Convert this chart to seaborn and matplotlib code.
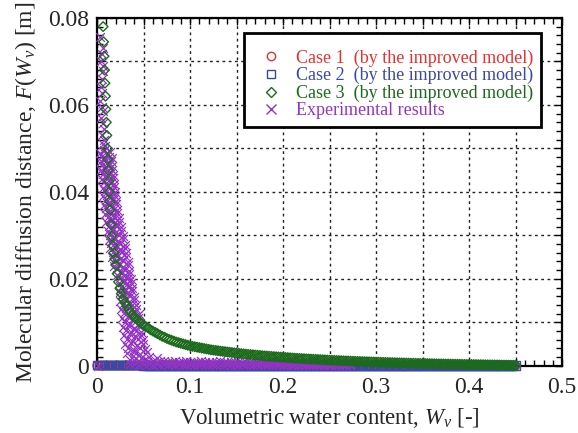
import matplotlib
matplotlib.use("Agg")
import matplotlib.pyplot as plt
from matplotlib import font_manager as fm
from matplotlib.ticker import MultipleLocator, FuncFormatter
from matplotlib.lines import Line2D
import seaborn as sns
import pandas as pd

# ---------------- data ----------------
legend_labels = ["Case 1  (by the improved model)",
                 "Case 2  (by the improved model)",
                 "Case 3  (by the improved model)",
                 "Experimental results"]

w_grid = [0.0000, 0.0025, 0.0050, 0.0075, 0.0100, 0.0125, 0.0150, 0.0175, 0.0200, 0.0225,
          0.0250, 0.0275, 0.0300, 0.0325, 0.0350, 0.0375, 0.0400, 0.0425, 0.0450, 0.0475,
          0.0500, 0.0525, 0.0550, 0.0575, 0.0600, 0.0625, 0.0650, 0.0675, 0.0700, 0.0725,
          0.0750, 0.0775, 0.0800, 0.0825, 0.0850, 0.0875, 0.0900, 0.0925, 0.0950, 0.0975,
          0.1000, 0.1025, 0.1050, 0.1075, 0.1100, 0.1125, 0.1150, 0.1175, 0.1200, 0.1225,
          0.1250, 0.1275, 0.1300, 0.1325, 0.1350, 0.1375, 0.1400, 0.1425, 0.1450, 0.1475,
          0.1500, 0.1525, 0.1550, 0.1575, 0.1600, 0.1625, 0.1650, 0.1675, 0.1700, 0.1725,
          0.1750, 0.1775, 0.1800, 0.1825, 0.1850, 0.1875, 0.1900, 0.1925, 0.1950, 0.1975,
          0.2000, 0.2025, 0.2050, 0.2075, 0.2100, 0.2125, 0.2150, 0.2175, 0.2200, 0.2225,
          0.2250, 0.2275, 0.2300, 0.2325, 0.2350, 0.2375, 0.2400, 0.2425, 0.2450, 0.2475,
          0.2500, 0.2525, 0.2550, 0.2575, 0.2600, 0.2625, 0.2650, 0.2675, 0.2700, 0.2725,
          0.2750, 0.2775, 0.2800, 0.2825, 0.2850, 0.2875, 0.2900, 0.2925, 0.2950, 0.2975,
          0.3000, 0.3025, 0.3050, 0.3075, 0.3100, 0.3125, 0.3150, 0.3175, 0.3200, 0.3225,
          0.3250, 0.3275, 0.3300, 0.3325, 0.3350, 0.3375, 0.3400, 0.3425, 0.3450, 0.3475,
          0.3500, 0.3525, 0.3550, 0.3575, 0.3600, 0.3625, 0.3650, 0.3675, 0.3700, 0.3725,
          0.3750, 0.3775, 0.3800, 0.3825, 0.3850, 0.3875, 0.3900, 0.3925, 0.3950, 0.3975,
          0.4000, 0.4025, 0.4050, 0.4075, 0.4100, 0.4125, 0.4150, 0.4175, 0.4200, 0.4225,
          0.4250, 0.4275, 0.4300, 0.4325, 0.4350, 0.4375, 0.4400, 0.4425, 0.4450, 0.4475,
          0.4500]

case1_f = [0.00006, 0.00006, 0.00006, 0.00006, 0.00006, 0.00006, 0.00006, 0.00006, 0.00006, 0.00006,
           0.00006, 0.00006, 0.00006, 0.00006, 0.00006, 0.00006, 0.00006, 0.00006, 0.00006, 0.00006,
           0.00005, 0.00005, 0.00005, 0.00005, 0.00005, 0.00005, 0.00005, 0.00005, 0.00005, 0.00005,
           0.00005, 0.00005, 0.00005, 0.00005, 0.00005, 0.00005, 0.00005, 0.00005, 0.00005, 0.00005,
           0.00005, 0.00005, 0.00005, 0.00005, 0.00005, 0.00005, 0.00005, 0.00005, 0.00005, 0.00005,
           0.00004, 0.00004, 0.00004, 0.00004, 0.00004, 0.00004, 0.00004, 0.00004, 0.00004, 0.00004,
           0.00004, 0.00004, 0.00004, 0.00004, 0.00004, 0.00004, 0.00004, 0.00004, 0.00004, 0.00004,
           0.00004, 0.00004, 0.00004, 0.00004, 0.00004, 0.00004, 0.00004, 0.00004, 0.00004, 0.00004,
           0.00003, 0.00003, 0.00003, 0.00003, 0.00003, 0.00003, 0.00003, 0.00003, 0.00003, 0.00003,
           0.00003, 0.00003, 0.00003, 0.00003, 0.00003, 0.00003, 0.00003, 0.00003, 0.00003, 0.00003,
           0.00003, 0.00003, 0.00003, 0.00003, 0.00003, 0.00003, 0.00003, 0.00003, 0.00003, 0.00003,
           0.00002, 0.00002, 0.00002, 0.00002, 0.00002, 0.00002, 0.00002, 0.00002, 0.00002, 0.00002,
           0.00002, 0.00002, 0.00002, 0.00002, 0.00002, 0.00002, 0.00002, 0.00002, 0.00002, 0.00002,
           0.00002, 0.00002, 0.00002, 0.00002, 0.00002, 0.00002, 0.00002, 0.00002, 0.00002, 0.00002,
           0.00001, 0.00001, 0.00001, 0.00001, 0.00001, 0.00001, 0.00001, 0.00001, 0.00001, 0.00001,
           0.00001, 0.00001, 0.00001, 0.00001, 0.00001, 0.00001, 0.00001, 0.00001, 0.00001, 0.00001,
           0.00001, 0.00001, 0.00001, 0.00001, -0.00003, -0.00003, -0.00003, -0.00003, 0.00001, 0.00001,
           0.00001, 0.00001, 0.00001, 0.00001, 0.00001, 0.00001, 0.00001, 0.00001, 0.00001, 0.00001,
           0.00001]

case2_f = [0.00013, 0.00013, 0.00013, 0.00013, 0.00013, 0.00013, 0.00013, 0.00013, 0.00013, 0.00013,
           0.00013, 0.00013, 0.00013, 0.00013, 0.00013, 0.00013, 0.00013, 0.00013, 0.00013, 0.00013,
           0.00012, 0.00012, 0.00012, 0.00012, 0.00012, 0.00012, 0.00012, 0.00012, 0.00012, 0.00012,
           0.00012, 0.00012, 0.00012, 0.00012, 0.00012, 0.00012, 0.00012, 0.00012, 0.00012, 0.00012,
           0.00011, 0.00011, 0.00011, 0.00011, 0.00011, 0.00011, 0.00011, 0.00011, 0.00011, 0.00011,
           0.00011, 0.00011, 0.00011, 0.00011, 0.00011, 0.00011, 0.00011, 0.00011, 0.00011, 0.00011,
           0.00011, 0.00011, 0.00011, 0.00011, 0.00011, 0.00011, 0.00011, 0.00011, 0.00011, 0.00011,
           0.00010, 0.00010, 0.00010, 0.00010, 0.00010, 0.00010, 0.00010, 0.00010, 0.00010, 0.00010,
           0.00010, 0.00010, 0.00010, 0.00010, 0.00010, 0.00010, 0.00010, 0.00010, 0.00010, 0.00010,
           0.00010, 0.00010, 0.00010, 0.00010, 0.00010, 0.00010, 0.00010, 0.00010, 0.00010, 0.00010,
           0.00010, 0.00010, 0.00010, 0.00010, 0.00010, 0.00010, 0.00010, 0.00010, 0.00010, 0.00010,
           0.00009, 0.00009, 0.00009, 0.00009, 0.00009, 0.00009, 0.00009, 0.00009, 0.00009, 0.00009,
           0.00009, 0.00009, 0.00009, 0.00009, 0.00009, 0.00009, 0.00009, 0.00009, 0.00009, 0.00009,
           0.00009, 0.00009, 0.00009, 0.00009, 0.00009, 0.00009, 0.00009, 0.00009, 0.00009, 0.00009,
           0.00008, 0.00008, 0.00008, 0.00008, 0.00008, 0.00008, 0.00008, 0.00008, 0.00008, 0.00008,
           0.00008, 0.00008, 0.00008, 0.00008, 0.00008, 0.00008, 0.00008, 0.00008, 0.00008, 0.00008,
           0.00008, 0.00008, 0.00008, 0.00008, 0.00008, 0.00008, 0.00008, 0.00008, 0.00008, 0.00008,
           0.00008, 0.00008, 0.00008, 0.00008, 0.00008, 0.00008, 0.00008, 0.00008, 0.00008, 0.00008,
           0.00008]

# Case 3: steep upper part, then the tail on the w_grid from W = 0.08 on
case3_head_w = [0.0065, 0.0070, 0.0075, 0.0080, 0.0085, 0.0090, 0.0095, 0.0100, 0.0105, 0.0110,
                0.0115, 0.0120, 0.0125, 0.0130, 0.0135, 0.0140, 0.0150, 0.0160, 0.0170, 0.0180,
                0.0190, 0.0200, 0.0215, 0.0230, 0.0245, 0.0260, 0.0280, 0.0300, 0.0320, 0.0340,
                0.0360, 0.0380, 0.0400, 0.0420, 0.0440, 0.0460, 0.0480, 0.0500, 0.0525, 0.0550,
                0.0575, 0.0600, 0.0625, 0.0650, 0.0675, 0.0700, 0.0725, 0.0750, 0.0775]
case3_head_f = [0.0780, 0.0745, 0.0712, 0.0680, 0.0650, 0.0620, 0.0590, 0.0560, 0.0530, 0.0500,
                0.0475, 0.0450, 0.0425, 0.0400, 0.0378, 0.0358, 0.0325, 0.0298, 0.0277, 0.0260,
                0.0246, 0.0232, 0.0212, 0.0193, 0.0178, 0.0166, 0.0154, 0.0145, 0.0137, 0.0130,
                0.0124, 0.0118, 0.0113, 0.0109, 0.0105, 0.0101, 0.0097, 0.0094, 0.0090, 0.0087,
                0.0083, 0.0080, 0.0077, 0.0074, 0.0071, 0.0068, 0.0066, 0.0063, 0.0061]
case3_tail_f = [0.00590, 0.00570, 0.00550, 0.00535, 0.00520, 0.00505, 0.00490, 0.00475, 0.00460, 0.00450,
                0.00440, 0.00430, 0.00420, 0.00410, 0.00400, 0.00390, 0.00380, 0.00370, 0.00362, 0.00355,
                0.00348, 0.00340, 0.00333, 0.00326, 0.00320, 0.00313, 0.00307, 0.00300, 0.00294, 0.00288,
                0.00282, 0.00276, 0.00270, 0.00265, 0.00260, 0.00255, 0.00250, 0.00245, 0.00240, 0.00235,
                0.00230, 0.00226, 0.00222, 0.00218, 0.00214, 0.00210, 0.00206, 0.00202, 0.00198, 0.00194,
                0.00190, 0.00186, 0.00182, 0.00178, 0.00175, 0.00172, 0.00168, 0.00165, 0.00162, 0.00159,
                0.00156, 0.00153, 0.00150, 0.00147, 0.00144, 0.00141, 0.00138, 0.00135, 0.00132, 0.00130,
                0.00127, 0.00124, 0.00122, 0.00119, 0.00117, 0.00114, 0.00112, 0.00110, 0.00107, 0.00105,
                0.00103, 0.00101, 0.00099, 0.00097, 0.00095, 0.00093, 0.00091, 0.00089, 0.00087, 0.00085,
                0.00083, 0.00081, 0.00080, 0.00078, 0.00076, 0.00075, 0.00073, 0.00071, 0.00070, 0.00068,
                0.00067, 0.00065, 0.00064, 0.00062, 0.00061, 0.00059, 0.00058, 0.00057, 0.00055, 0.00054,
                0.00053, 0.00051, 0.00050, 0.00049, 0.00048, 0.00046, 0.00045, 0.00044, 0.00043, 0.00042,
                0.00041, 0.00040, 0.00039, 0.00038, 0.00037, 0.00036, 0.00035, 0.00034, 0.00033, 0.00032,
                0.00031, 0.00030, 0.00029, 0.00028, 0.00027, 0.00026, 0.00025, 0.00024, 0.00023, 0.00022,
                0.00021, 0.00020, 0.00019, 0.00018, 0.00017, 0.00016, 0.00015, 0.00014, 0.00013]

# experimental results: sparse upper part
exp_top_w = [0.0030, 0.0060, 0.0050, 0.0045, 0.0060, 0.0065, 0.0050, 0.0040, 0.0055, 0.0035,
             0.0050, 0.0060, 0.0045, 0.0060, 0.0070, 0.0055, 0.0075, 0.0065, 0.0080, 0.0070,
             0.0010]
exp_top_f = [0.0757, 0.0730, 0.0718, 0.0700, 0.0690, 0.0678, 0.0660, 0.0640, 0.0628, 0.0610,
             0.0595, 0.0585, 0.0570, 0.0558, 0.0545, 0.0530, 0.0520, 0.0510, 0.0505, 0.0497,
             0.0000]

# experimental results: dense band
exp_band_w = [
    0.0036, 0.0072, 0.0104, 0.0140, 0.0053, 0.0089, 0.0124, 0.0157,
    0.0041, 0.0079, 0.0113, 0.0150, 0.0058, 0.0094, 0.0129, 0.0162,
    0.0047, 0.0086, 0.0121, 0.0160, 0.0063, 0.0099, 0.0134, 0.0167,
    0.0052, 0.0092, 0.0129, 0.0169, 0.0074, 0.0111, 0.0147, 0.0182,
    0.0062, 0.0102, 0.0139, 0.0179, 0.0085, 0.0123, 0.0161, 0.0197,
    0.0067, 0.0111, 0.0150, 0.0193, 0.0091, 0.0130, 0.0169, 0.0207,
    0.0073, 0.0118, 0.0158, 0.0203, 0.0097, 0.0138, 0.0178, 0.0217,
    0.0088, 0.0133, 0.0173, 0.0218, 0.0113, 0.0155, 0.0197, 0.0237,
    0.0098, 0.0146, 0.0189, 0.0237, 0.0129, 0.0172, 0.0215, 0.0257,
    0.0113, 0.0163, 0.0207, 0.0257, 0.0141, 0.0187, 0.0232, 0.0277,
    0.0124, 0.0176, 0.0224, 0.0276, 0.0152, 0.0201, 0.0250, 0.0296,
    0.0139, 0.0193, 0.0242, 0.0296, 0.0172, 0.0219, 0.0266, 0.0312,
    0.0159, 0.0210, 0.0255, 0.0306, 0.0191, 0.0237, 0.0282, 0.0327,
    0.0183, 0.0233, 0.0277, 0.0327, 0.0219, 0.0262, 0.0305, 0.0347,
    0.0213, 0.0259, 0.0301, 0.0348, 0.0247, 0.0288, 0.0328, 0.0367,
    0.0233, 0.0279, 0.0321, 0.0368, 0.0257, 0.0298, 0.0338, 0.0377,
    0.0243, 0.0289, 0.0331, 0.0378, 0.0269, 0.0312, 0.0355, 0.0397,
    0.0249, 0.0300, 0.0345, 0.0396, 0.0277, 0.0324, 0.0371, 0.0417,
    0.0259, 0.0313, 0.0362, 0.0416, 0.0286, 0.0340, 0.0394, 0.0446,
    0.0265, 0.0327, 0.0382, 0.0444, 0.0296, 0.0350, 0.0404, 0.0456,
    0.0275, 0.0337, 0.0392, 0.0454, 0.0308, 0.0365, 0.0421, 0.0476,
    0.0286, 0.0350, 0.0408, 0.0473, 0.0320, 0.0379, 0.0438, 0.0496,
    0.0296, 0.0364, 0.0425, 0.0492, 0.0331, 0.0394, 0.0456, 0.0515,
    0.0323, 0.0398, 0.0465, 0.0540, 0.0388, 0.0474, 0.0560, 0.0644]
exp_band_f = [
    0.0490, 0.0493, 0.0488, 0.0491, 0.0482, 0.0477, 0.0481, 0.0479,
    0.0470, 0.0473, 0.0468, 0.0471, 0.0462, 0.0457, 0.0461, 0.0459,
    0.0450, 0.0453, 0.0448, 0.0451, 0.0442, 0.0437, 0.0441, 0.0439,
    0.0430, 0.0433, 0.0428, 0.0431, 0.0422, 0.0417, 0.0421, 0.0419,
    0.0410, 0.0413, 0.0408, 0.0411, 0.0402, 0.0397, 0.0401, 0.0399,
    0.0390, 0.0393, 0.0388, 0.0391, 0.0382, 0.0377, 0.0381, 0.0379,
    0.0370, 0.0373, 0.0368, 0.0371, 0.0362, 0.0357, 0.0361, 0.0359,
    0.0350, 0.0353, 0.0348, 0.0351, 0.0342, 0.0337, 0.0341, 0.0339,
    0.0330, 0.0333, 0.0328, 0.0331, 0.0322, 0.0317, 0.0321, 0.0319,
    0.0310, 0.0313, 0.0308, 0.0311, 0.0302, 0.0297, 0.0301, 0.0299,
    0.0290, 0.0293, 0.0288, 0.0291, 0.0282, 0.0277, 0.0281, 0.0279,
    0.0270, 0.0273, 0.0268, 0.0271, 0.0262, 0.0257, 0.0261, 0.0259,
    0.0250, 0.0253, 0.0248, 0.0251, 0.0242, 0.0237, 0.0241, 0.0239,
    0.0230, 0.0233, 0.0228, 0.0231, 0.0222, 0.0217, 0.0221, 0.0219,
    0.0210, 0.0213, 0.0208, 0.0211, 0.0202, 0.0197, 0.0201, 0.0199,
    0.0190, 0.0193, 0.0188, 0.0191, 0.0182, 0.0177, 0.0181, 0.0179,
    0.0170, 0.0173, 0.0168, 0.0171, 0.0162, 0.0157, 0.0161, 0.0159,
    0.0150, 0.0153, 0.0148, 0.0151, 0.0142, 0.0137, 0.0141, 0.0139,
    0.0130, 0.0133, 0.0128, 0.0131, 0.0122, 0.0117, 0.0121, 0.0119,
    0.0110, 0.0113, 0.0108, 0.0111, 0.0102, 0.0097, 0.0101, 0.0099,
    0.0090, 0.0093, 0.0088, 0.0091, 0.0082, 0.0077, 0.0081, 0.0079,
    0.0070, 0.0073, 0.0068, 0.0071, 0.0062, 0.0057, 0.0061, 0.0059,
    0.0050, 0.0053, 0.0048, 0.0051, 0.0042, 0.0037, 0.0041, 0.0039,
    0.0030, 0.0033, 0.0028, 0.0031, 0.0022, 0.0017, 0.0021, 0.0019]

# experimental results: low tail along the axis
exp_tail_w = [0.035, 0.040, 0.045, 0.050, 0.055, 0.060, 0.064, 0.068, 0.072, 0.076,
              0.080, 0.084, 0.088, 0.092, 0.096, 0.100, 0.104, 0.108, 0.112, 0.116,
              0.120, 0.124, 0.128, 0.132, 0.136, 0.140, 0.144, 0.148, 0.152, 0.156,
              0.160, 0.164, 0.168, 0.172, 0.176, 0.180, 0.184, 0.188, 0.192, 0.196,
              0.200, 0.204, 0.208, 0.212, 0.216, 0.220, 0.224, 0.228, 0.232, 0.236,
              0.240, 0.244, 0.248, 0.252, 0.256, 0.260, 0.264, 0.268, 0.272]
exp_tail_f_hi = [0.0014, 0.0013, 0.0012, 0.0013, 0.0011, 0.0012, 0.0010, 0.0011, 0.0012, 0.0009,
                 0.0010, 0.0011, 0.0009, 0.0010, 0.0012, 0.0009, 0.0010, 0.0008, 0.0011, 0.0009,
                 0.0010, 0.0008, 0.0009, 0.0011, 0.0008, 0.0009, 0.0010, 0.0008, 0.0009, 0.0007,
                 0.0010, 0.0008, 0.0009, 0.0007, 0.0008, 0.0010, 0.0007, 0.0008, 0.0009, 0.0007,
                 0.0008, 0.0007, 0.0009, 0.0006, 0.0008, 0.0007, 0.0008, 0.0006, 0.0007, 0.0008,
                 0.0006, 0.0007, 0.0006, 0.0008, 0.0006, 0.0007, 0.0006, 0.0007, 0.0006]
exp_tail_f_lo = [0.0004, 0.0005, 0.0003, 0.0004, 0.0005, 0.0003, 0.0004, 0.0002, 0.0004, 0.0003,
                 0.0005, 0.0003, 0.0004, 0.0002, 0.0003, 0.0004, 0.0002, 0.0003, 0.0004, 0.0002,
                 0.0003, 0.0004, 0.0002, 0.0003, 0.0002, 0.0004, 0.0003, 0.0002, 0.0003, 0.0004,
                 0.0002, 0.0003, 0.0002, 0.0003, 0.0004, 0.0002, 0.0003, 0.0002, 0.0003, 0.0002,
                 0.0003, 0.0002, 0.0003, 0.0002, 0.0003, 0.0002, 0.0002, 0.0003, 0.0002, 0.0003,
                 0.0002, 0.0002, 0.0003, 0.0002, 0.0002, 0.0003, 0.0002, 0.0002, 0.0003]

x_ticks_labeled = [0.0, 0.1, 0.2, 0.3, 0.4, 0.5]
y_ticks_labeled = [0.0, 0.02, 0.04, 0.06, 0.08]

# ---------------- styling ----------------
c_red = "#e8312f"
c_blue = "#3a48a8"
c_green = "#1b6b1b"
c_purple = "#9433c4"

available = set(f.name for f in fm.fontManager.ttflist)
serif_font = "STIXGeneral"
for cand in ["Liberation Serif", "Times New Roman", "Tinos", "Nimbus Roman",
             "Nimbus Roman No9 L", "FreeSerif", "STIXGeneral"]:
    if cand in available:
        serif_font = cand
        break

sns.set_style("ticks")
plt.rcParams["font.family"] = [serif_font, "DejaVu Serif"]
plt.rcParams["mathtext.fontset"] = "custom"
plt.rcParams["mathtext.rm"] = serif_font
plt.rcParams["mathtext.it"] = serif_font + ":italic"

fig = plt.figure(figsize=(5.78, 4.33), dpi=100)
ax = fig.add_axes([0.168, 0.155, 0.8045, 0.8037])

df1 = pd.DataFrame({"W": w_grid, "F": case1_f})
df2 = pd.DataFrame({"W": w_grid, "F": case2_f})
df3 = pd.DataFrame({"W": case3_head_w + w_grid[32:], "F": case3_head_f + case3_tail_f})
dfe = pd.DataFrame({"W": exp_top_w + exp_band_w + exp_tail_w + exp_tail_w,
                    "F": exp_top_f + exp_band_f + exp_tail_f_hi + exp_tail_f_lo})

sns.scatterplot(data=df1, x="W", y="F", ax=ax, marker="o", s=36,
                facecolor="none", edgecolor=c_red, linewidth=1.0, clip_on=False, zorder=3)
sns.scatterplot(data=df2, x="W", y="F", ax=ax, marker="s", s=36,
                facecolor="none", edgecolor=c_blue, linewidth=1.0, clip_on=False, zorder=3)
sns.scatterplot(data=dfe, x="W", y="F", ax=ax, marker="x", s=40,
                color=c_purple, linewidth=0.9, clip_on=False, zorder=4)
sns.scatterplot(data=df3, x="W", y="F", ax=ax, marker="D", s=24,
                facecolor="none", edgecolor=c_green, linewidth=1.0, clip_on=False, zorder=5)

ax.set_xlim(0, 0.5)
ax.set_ylim(0, 0.08)

ax.xaxis.set_major_locator(MultipleLocator(0.05))
ax.xaxis.set_minor_locator(MultipleLocator(0.01))
ax.yaxis.set_major_locator(MultipleLocator(0.01))
ax.yaxis.set_minor_locator(MultipleLocator(0.002))


def make_fmt(labeled):
    def f(v, pos):
        for t in labeled:
            if abs(v - t) < 1e-9:
                return "0" if abs(t) < 1e-12 else ("%g" % t)
        return ""
    return f


ax.xaxis.set_major_formatter(FuncFormatter(make_fmt(x_ticks_labeled)))
ax.yaxis.set_major_formatter(FuncFormatter(make_fmt(y_ticks_labeled)))

ax.tick_params(which="both", direction="in", top=True, right=True,
               labelsize=17, color="black", width=1.0)
ax.tick_params(axis="x", which="both", pad=8)
ax.tick_params(axis="y", which="both", pad=6)
ax.tick_params(which="major", length=5)
ax.tick_params(which="minor", length=4)

for sp in ax.spines.values():
    sp.set_linewidth(1.6)
    sp.set_color("black")

ax.set_axisbelow(True)
ax.grid(True, which="major", color="#222222", linestyle=(0, (2, 2.5)), linewidth=1.0)

ax.set_xlabel(r"Volumetric water content, $W_v$ [-]", fontsize=16.5, labelpad=6)
ax.set_ylabel(r"Molecular diffusion distance, $F$($W_v$) [m]", fontsize=17, labelpad=6)

handles = [
    Line2D([], [], linestyle="none", marker="o", markersize=6, markerfacecolor="none",
           markeredgecolor=c_red, markeredgewidth=1.0),
    Line2D([], [], linestyle="none", marker="s", markersize=6, markerfacecolor="none",
           markeredgecolor=c_blue, markeredgewidth=1.0),
    Line2D([], [], linestyle="none", marker="D", markersize=5, markerfacecolor="none",
           markeredgecolor=c_green, markeredgewidth=1.0),
    Line2D([], [], linestyle="none", marker="x", markersize=7,
           markeredgecolor=c_purple, markeredgewidth=1.0),
]
leg = ax.legend(handles, legend_labels, loc="upper right", bbox_to_anchor=(0.955, 0.957),
                fontsize=13, frameon=True, fancybox=False, framealpha=1,
                edgecolor="black", handlelength=2.0, handletextpad=0.4,
                labelspacing=0.02, borderpad=0.45, borderaxespad=0,
                title=" ", title_fontsize=6)
leg.get_frame().set_linewidth(2.0)
for txt, col in zip(leg.get_texts(), [c_red, c_blue, c_green, c_purple]):
    txt.set_color(col)
leg.set_zorder(10)

fig.savefig("out.png", dpi=100)
